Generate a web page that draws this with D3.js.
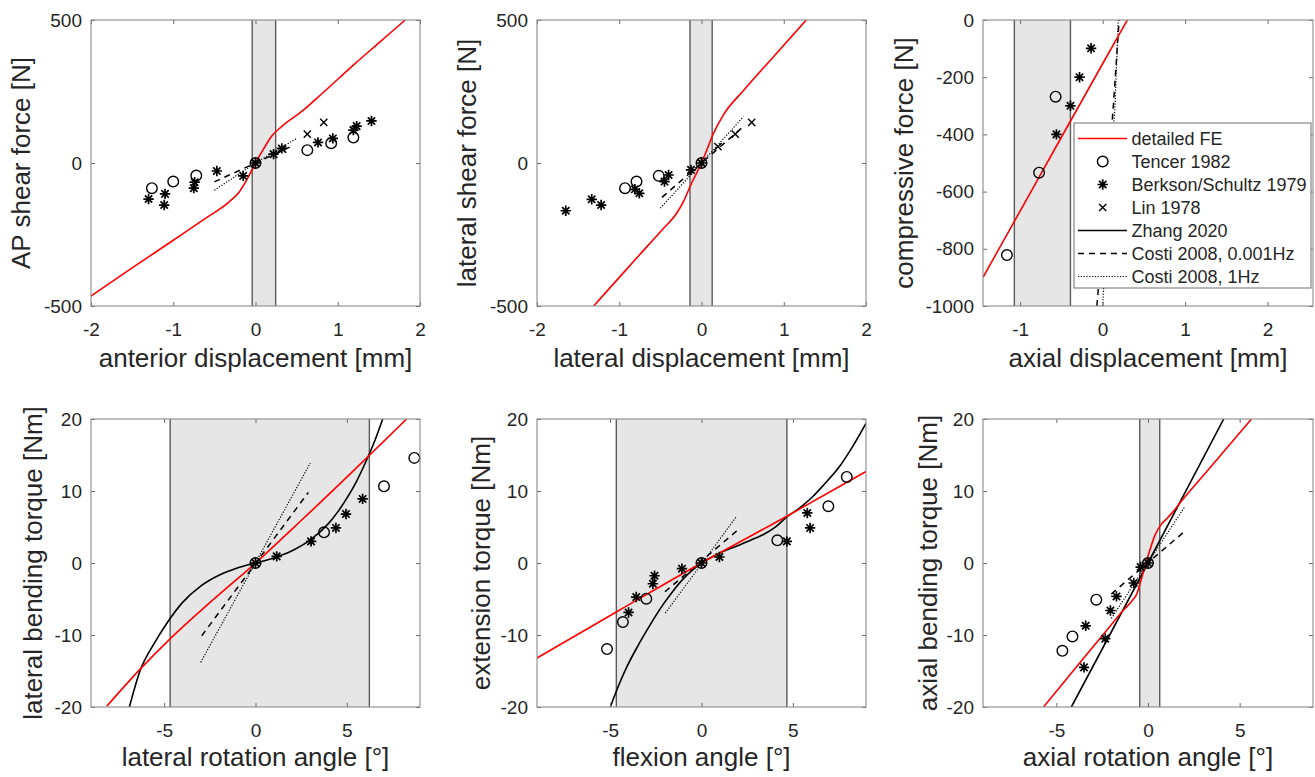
<!DOCTYPE html>
<html>
<head>
<meta charset="utf-8">
<script src="https://cdn.jsdelivr.net/npm/d3@7"></script>
<style>
  body { margin: 0; background: #fff; }
  text { font-family: "Liberation Sans", Arial, sans-serif; fill: #262626; }
</style>
</head>
<body>
<svg id="fig" width="1315" height="777"></svg>
<script>
// ---------- AP shear (anterior displacement [mm] vs force [N]) ----------
const apFeX = [-2, -1.5, -1.0, -0.6, -0.32, -0.2, -0.1, 0, 0.1, 0.2, 0.32, 0.57, 0.81, 1.2, 1.5, 1.82];
const apFeY = [-465, -367, -270, -192, -136, -102, -55, 0, 50, 95, 128, 182, 243, 345, 420, 500];
const apTencerX = [-1.26, -1.0, -0.72, 0, 0.63, 0.92, 1.19];
const apTencerY = [-88, -65, -44, 0, 45, 69, 89];
const apBerksonX = [-1.30, -1.10, -1.11, -0.74, -0.75, -0.47, -0.15, 0, 0.22, 0.32, 0.76, 0.94, 1.19, 1.23, 1.41];
const apBerksonY = [-126, -108, -147, -67, -88, -28, -45, 0, 31, 51, 72, 86, 115, 129, 147];
const apLinX = [0, 0.33, 0.63, 0.83];
const apLinY = [0, 48, 101, 142];
const apCostiSlowX = [-0.5, 0, 0.45];
const apCostiSlowY = [-66, 0, 60];
const apCostiFastX = [-0.5, 0, 0.5];
const apCostiFastY = [-95, 0, 86];

// ---------- lateral shear ----------
const latFeX = [-1.31, -1.0, -0.75, -0.48, -0.3, -0.22, -0.12, 0, 0.06, 0.14, 0.27, 0.5, 0.87, 1.28];
const latFeY = [-500, -400, -320, -234, -175, -135, -70, 0, 42, 100, 170, 250, 370, 502];
const latTencerX = [-0.93, -0.79, -0.52, 0];
const latTencerY = [-88, -65, -45, 0];
const latBerksonX = [-1.65, -1.335, -1.22, -0.81, -0.756, -0.45, -0.40, -0.128, 0];
const latBerksonY = [-167, -127, -147, -92, -106, -65, -42, -24, 0];
const latLinX = [0, 0.20, 0.41, 0.61];
const latLinY = [0, 57, 101, 142];
const latCostiSlowX = [-0.48, 0, 0.5];
const latCostiSlowY = [-120, 0, 125];
const latCostiFastX = [-0.5, 0, 0.51];
const latCostiFastY = [-158, 0, 162];

// ---------- axial compression ----------
const axFeX = [-1.45, -1.0, -0.5, 0, 0.3];
const axFeY = [-900, -668, -410, -153, 0];
const axTencerX = [-0.57, -0.77, -1.16];
const axTencerY = [-268, -534, -822];
const axBerksonX = [-0.14, -0.28, -0.39, -0.56];
const axBerksonY = [-99, -200, -300, -400];
const axCostiSlowX = [-0.07, 0.05, 0.13, 0.2];
const axCostiSlowY = [-1000, -600, -300, 0];
const axCostiFastX = [0.0, 0.08, 0.15, 0.19];
const axCostiFastY = [-1000, -600, -300, 0];

// ---------- lateral bending ----------
const lbFeX = [-8.14, -6.3, -4.7, -2.5, 0, 2.5, 5.72, 8.27];
const lbFeY = [-19.9, -14.7, -10.6, -5.5, 0, 5.9, 13.7, 20];
const lbZhangX = [-6.9, -6.35, -5.5, -4.86, -4, -3, -2, -1, 0, 1, 2, 3, 4, 4.5, 5, 5.5, 5.9, 6.5, 6.96];
const lbZhangY = [-20, -15.2, -11.0, -8.4, -5.5, -3.2, -1.7, -0.7, 0, 0.7, 1.7, 3.2, 5.5, 7.1, 9.0, 11.2, 13.3, 16.8, 20];
const lbTencerX = [0, 3.75, 7.03, 8.69];
const lbTencerY = [0, 4.26, 10.65, 14.6];
const lbBerksonX = [0, 1.16, 3.04, 4.40, 4.95, 5.86];
const lbBerksonY = [0, 0.92, 3.0, 4.87, 6.8, 8.9];
const lbCostiSlowX = [-2.94, 2.89];
const lbCostiSlowY = [-10.1, 9.8];
const lbCostiFastX = [-3.0, 3.0];
const lbCostiFastY = [-13.8, 13.9];

// ---------- flexion / extension ----------
const flFeX = [-9, -4.66, 0, 4.67, 9];
const flFeY = [-13.2, -6.8, 0, 6.5, 12.7];
const flZhangX = [-4.99, -4.5, -4.08, -3.5, -3.0, -2.5, -2.0, -1.5, -1.0, -0.5, 0, 0.5, 1, 1.57, 2.11, 3, 3.39, 4, 4.67, 5.5, 6.12, 6.67, 7.58, 8.13, 9];
const flZhangY = [-20, -16.8, -14.4, -11.6, -9.4, -7.3, -5.4, -3.7, -2.2, -1.0, 0, 0.75, 1.4, 2.0, 2.55, 3.5, 3.95, 4.9, 6.4, 7.9, 9.3, 10.8, 13.5, 15.6, 19.4];
const flTencerX = [-5.17, -4.30, -3.02, 0, 4.15, 6.94, 7.95];
const flTencerY = [-11.96, -8.2, -4.96, 0, 3.15, 7.88, 11.96];
const flBerksonX = [-3.99, -3.57, -2.66, -2.57, -1.07, 0, 0.98, 4.67, 5.79, 5.94];
const flBerksonY = [-6.87, -4.73, -2.88, -1.77, -0.79, 0, 0.83, 3.0, 6.95, 4.87];
const flCostiSlowX = [-2, 2];
const flCostiSlowY = [-4.0, 4.6];
const flCostiFastX = [-1.98, 1.93];
const flCostiFastY = [-6.95, 6.5];

// ---------- axial rotation ----------
const arFeX = [-5.7, -3.73, -2.36, -1.36, -0.82, -0.63, -0.45, -0.23, 0.09, 0.37, 0.73, 1.0, 1.36, 1.73, 3.37, 5.64];
const arFeY = [-20, -13.9, -9.7, -6.6, -5.1, -4.4, -3.0, -1.0, 1.7, 3.8, 5.4, 6.1, 7.1, 8.3, 13.2, 20];
const arZhangX = [-4.18, 0, 4.13];
const arZhangY = [-20, 0, 20];
const arTencerX = [-4.67, -4.12, -2.82, 0];
const arTencerY = [-12.2, -10.2, -5.1, 0];
const arBerksonX = [-3.49, -3.40, -2.33, -2.05, -1.72, -0.78, -0.40, 0];
const arBerksonY = [-14.5, -8.72, -10.5, -6.6, -4.64, -2.78, -0.56, 0];
const arCostiSlowX = [-2, 2];
const arCostiSlowY = [-4.3, 4.4];
const arCostiFastX = [-2, 2];
const arCostiFastY = [-7.7, 7.8];

// ---------- axis ranges, ticks, labels, physiological range bands ----------
const forceTicksShear = [-500, 0, 500];
const forceTicksAxial = [-1000, -800, -600, -400, -200, 0];
const mmTicks = [-2, -1, 0, 1, 2];
const mmTicksAxial = [-1, 0, 1, 2];
const torqueTicks = [-20, -10, 0, 10, 20];
const angleTicks = [-5, 0, 5];
const legendLabels = ["detailed FE", "Tencer 1982", "Berkson/Schultz 1979", "Lin 1978",
                      "Zhang 2020", "Costi 2008, 0.001Hz", "Costi 2008, 1Hz"];

const zip = (a, b) => a.map((v, i) => [v, b[i]]);

const panels = [
  { box: [91, 20, 420, 306], xd: [-2, 2], yd: [-500, 500], xt: mmTicks, yt: forceTicksShear,
    band: [-0.04, 0.245], xl: "anterior displacement [mm]", yl: "AP shear force [N]", ylx: 30, xly: 367,
    fe: zip(apFeX, apFeY), tencer: zip(apTencerX, apTencerY), berkson: zip(apBerksonX, apBerksonY),
    lin: zip(apLinX, apLinY), slow: zip(apCostiSlowX, apCostiSlowY), fast: zip(apCostiFastX, apCostiFastY) },
  { box: [537, 20, 866, 306], xd: [-2, 2], yd: [-500, 500], xt: mmTicks, yt: forceTicksShear,
    band: [-0.14, 0.13], xl: "lateral displacement [mm]", yl: "lateral shear force [N]", ylx: 476, xly: 367,
    fe: zip(latFeX, latFeY), tencer: zip(latTencerX, latTencerY), berkson: zip(latBerksonX, latBerksonY),
    lin: zip(latLinX, latLinY), slow: zip(latCostiSlowX, latCostiSlowY), fast: zip(latCostiFastX, latCostiFastY) },
  { box: [983, 20, 1313, 306], xd: [-1.45, 2.55], yd: [-1000, 0], xt: mmTicksAxial, yt: forceTicksAxial,
    band: [-1.07, -0.39], xl: "axial displacement [mm]", yl: "compressive force [N]", ylx: 913, xly: 367,
    fe: zip(axFeX, axFeY), tencer: zip(axTencerX, axTencerY), berkson: zip(axBerksonX, axBerksonY),
    slow: zip(axCostiSlowX, axCostiSlowY), fast: zip(axCostiFastX, axCostiFastY), legend: true },
  { box: [91, 419, 420, 707], xd: [-9, 9], yd: [-20, 20], xt: angleTicks, yt: torqueTicks,
    band: [-4.67, 6.23], xl: "lateral rotation angle [°]", yl: "lateral bending torque [Nm]", ylx: 42, xly: 766,
    fe: zip(lbFeX, lbFeY), zhang: zip(lbZhangX, lbZhangY), tencer: zip(lbTencerX, lbTencerY),
    berkson: zip(lbBerksonX, lbBerksonY), slow: zip(lbCostiSlowX, lbCostiSlowY), fast: zip(lbCostiFastX, lbCostiFastY) },
  { box: [537, 419, 866, 707], xd: [-9, 9], yd: [-20, 20], xt: angleTicks, yt: torqueTicks,
    band: [-4.66, 4.67], xl: "flexion angle [°]", yl: "extension torque [Nm]", ylx: 490, xly: 766,
    fe: zip(flFeX, flFeY), zhang: zip(flZhangX, flZhangY), tencer: zip(flTencerX, flTencerY),
    berkson: zip(flBerksonX, flBerksonY), slow: zip(flCostiSlowX, flCostiSlowY), fast: zip(flCostiFastX, flCostiFastY) },
  { box: [983, 419, 1313, 707], xd: [-9, 9], yd: [-20, 20], xt: angleTicks, yt: torqueTicks,
    band: [-0.45, 0.64], xl: "axial rotation angle [°]", yl: "axial bending torque [Nm]", ylx: 937, xly: 766,
    fe: zip(arFeX, arFeY), zhang: zip(arZhangX, arZhangY), tencer: zip(arTencerX, arTencerY),
    berkson: zip(arBerksonX, arBerksonY), slow: zip(arCostiSlowX, arCostiSlowY), fast: zip(arCostiFastX, arCostiFastY) }
];

const svg = d3.select("#fig");
const TICK_FS = 19, LABEL_FS = 26, LEGEND_FS = 18;
const plainNumber = d => String(d);   // ASCII hyphen for negatives, no grouping

// marker shapes
const starPath = r => {
  const d = r * 0.707;
  return `M${-r},0L${r},0M0,${-r}L0,${r}M${-d},${-d}L${d},${d}M${-d},${d}L${d},${-d}`;
};
const crossPath = r => `M${-r},${-r}L${r},${r}M${-r},${r}L${r},${-r}`;

const styles = {
  fe:    { stroke: "#ff0000", width: 1.6, dash: null, curve: d3.curveMonotoneX },
  zhang: { stroke: "#000", width: 1.6, dash: null, curve: d3.curveMonotoneX },
  slow:  { stroke: "#000", width: 1.5, dash: "6,5", curve: d3.curveLinear },
  fast:  { stroke: "#000", width: 1.2, dash: "1.2,1.6", curve: d3.curveLinear }
};

function drawCircles(g, pts, x, y) {
  g.selectAll(null).data(pts).enter().append("circle")
    .attr("cx", d => x(d[0])).attr("cy", d => y(d[1])).attr("r", 5.3)
    .attr("fill", "none").attr("stroke", "#000").attr("stroke-width", 1.4);
}
function drawStars(g, pts, x, y) {
  g.selectAll(null).data(pts).enter().append("path")
    .attr("transform", d => `translate(${x(d[0])},${y(d[1])})`)
    .attr("d", starPath(5.2)).attr("fill", "none").attr("stroke", "#000").attr("stroke-width", 1.7);
}
function drawCrosses(g, pts, x, y) {
  g.selectAll(null).data(pts).enter().append("path")
    .attr("transform", d => `translate(${x(d[0])},${y(d[1])})`)
    .attr("d", crossPath(3.6)).attr("fill", "none").attr("stroke", "#000").attr("stroke-width", 1.4);
}

panels.forEach((p, i) => {
  const [bx0, by0, bx1, by1] = p.box;
  const x = d3.scaleLinear().domain(p.xd).range([bx0, bx1]);
  const y = d3.scaleLinear().domain(p.yd).range([by1, by0]);
  const g = svg.append("g");

  const clipId = "clip" + i;
  g.append("clipPath").attr("id", clipId).append("rect")
    .attr("x", bx0).attr("y", by0).attr("width", bx1 - bx0).attr("height", by1 - by0);

  // physiological range band
  g.append("rect").attr("x", x(p.band[0])).attr("y", by0)
    .attr("width", x(p.band[1]) - x(p.band[0])).attr("height", by1 - by0)
    .attr("fill", "#e6e6e6");
  p.band.forEach(b => g.append("line").attr("x1", x(b)).attr("x2", x(b))
    .attr("y1", by0).attr("y2", by1).attr("stroke", "#5a5a5a").attr("stroke-width", 1.4));

  // curves
  const plot = g.append("g").attr("clip-path", `url(#${clipId})`);
  ["fast", "slow", "zhang", "fe"].forEach(key => {
    if (!p[key]) return;
    const s = styles[key];
    plot.append("path").datum(p[key])
      .attr("d", d3.line().x(d => x(d[0])).y(d => y(d[1])).curve(s.curve))
      .attr("fill", "none").attr("stroke", s.stroke).attr("stroke-width", s.width)
      .attr("stroke-dasharray", s.dash);
  });

  // experimental points
  const marks = g.append("g");
  if (p.tencer) drawCircles(marks, p.tencer, x, y);
  if (p.berkson) drawStars(marks, p.berkson, x, y);
  if (p.lin) drawCrosses(marks, p.lin, x, y);

  // axes: ticks inside on all four sides
  const tick = 4;
  const ax = [
    g.append("g").attr("transform", `translate(0,${by1})`)
      .call(d3.axisBottom(x).tickValues(p.xt).tickFormat(plainNumber).tickSizeInner(-tick).tickSizeOuter(0).tickPadding(17)),
    g.append("g").attr("transform", `translate(${bx0},0)`)
      .call(d3.axisLeft(y).tickValues(p.yt).tickFormat(plainNumber).tickSizeInner(-tick).tickSizeOuter(0).tickPadding(9)),
    g.append("g").attr("transform", `translate(0,${by0})`)
      .call(d3.axisTop(x).tickValues(p.xt).tickSizeInner(-tick).tickSizeOuter(0).tickFormat("")),
    g.append("g").attr("transform", `translate(${bx1},0)`)
      .call(d3.axisRight(y).tickValues(p.yt).tickSizeInner(-tick).tickSizeOuter(0).tickFormat(""))
  ];
  ax.forEach(a => {
    a.select(".domain").remove();
    a.selectAll(".tick line").attr("stroke", "#6a6a6a");
    a.selectAll(".tick text").attr("font-size", TICK_FS)
      .attr("font-family", '"Liberation Sans", Arial, sans-serif').attr("fill", "#262626");
  });

  g.append("rect").attr("x", bx0).attr("y", by0).attr("width", bx1 - bx0).attr("height", by1 - by0)
    .attr("fill", "none").attr("stroke", "#8a8a8a").attr("stroke-width", 1.1);

  // axis labels
  g.append("text").attr("x", (bx0 + bx1) / 2).attr("y", p.xly)
    .attr("text-anchor", "middle").attr("font-size", LABEL_FS).text(p.xl);
  g.append("text").attr("transform", `translate(${p.ylx},${(by0 + by1) / 2}) rotate(-90)`)
    .attr("text-anchor", "middle").attr("font-size", LABEL_FS).text(p.yl);

  if (p.legend) drawLegend(g);
});

function drawLegend(g) {
  const lx = 1074, ly = 123, lw = 237, lh = 165;
  const lg = g.append("g");
  lg.append("rect").attr("x", lx).attr("y", ly).attr("width", lw).attr("height", lh)
    .attr("fill", "#fff").attr("stroke", "#7a7a7a").attr("stroke-width", 1.1);
  const rowY = d3.scalePoint().domain(legendLabels).range([138.5, 276.5]);
  const sx0 = 1078, sx1 = 1127, mx = 1102.7, tx = 1131.5;
  const kinds = ["fe", "tencer", "berkson", "lin", "zhang", "slow", "fast"];
  legendLabels.forEach((lab, k) => {
    const yy = rowY(lab);
    const kind = kinds[k];
    if (styles[kind]) {
      const s = styles[kind];
      lg.append("line").attr("x1", sx0).attr("x2", sx1).attr("y1", yy).attr("y2", yy)
        .attr("stroke", s.stroke).attr("stroke-width", s.width).attr("stroke-dasharray", s.dash);
    } else if (kind === "tencer") {
      lg.append("circle").attr("cx", mx).attr("cy", yy).attr("r", 5.3)
        .attr("fill", "none").attr("stroke", "#000").attr("stroke-width", 1.4);
    } else if (kind === "berkson") {
      lg.append("path").attr("transform", `translate(${mx},${yy})`).attr("d", starPath(5.2))
        .attr("fill", "none").attr("stroke", "#000").attr("stroke-width", 1.7);
    } else {
      lg.append("path").attr("transform", `translate(${mx},${yy})`).attr("d", crossPath(3.6))
        .attr("fill", "none").attr("stroke", "#000").attr("stroke-width", 1.4);
    }
    lg.append("text").attr("x", tx).attr("y", yy).attr("dy", "0.36em")
      .attr("font-size", LEGEND_FS).text(lab);
  });
}
</script>
</body>
</html>
